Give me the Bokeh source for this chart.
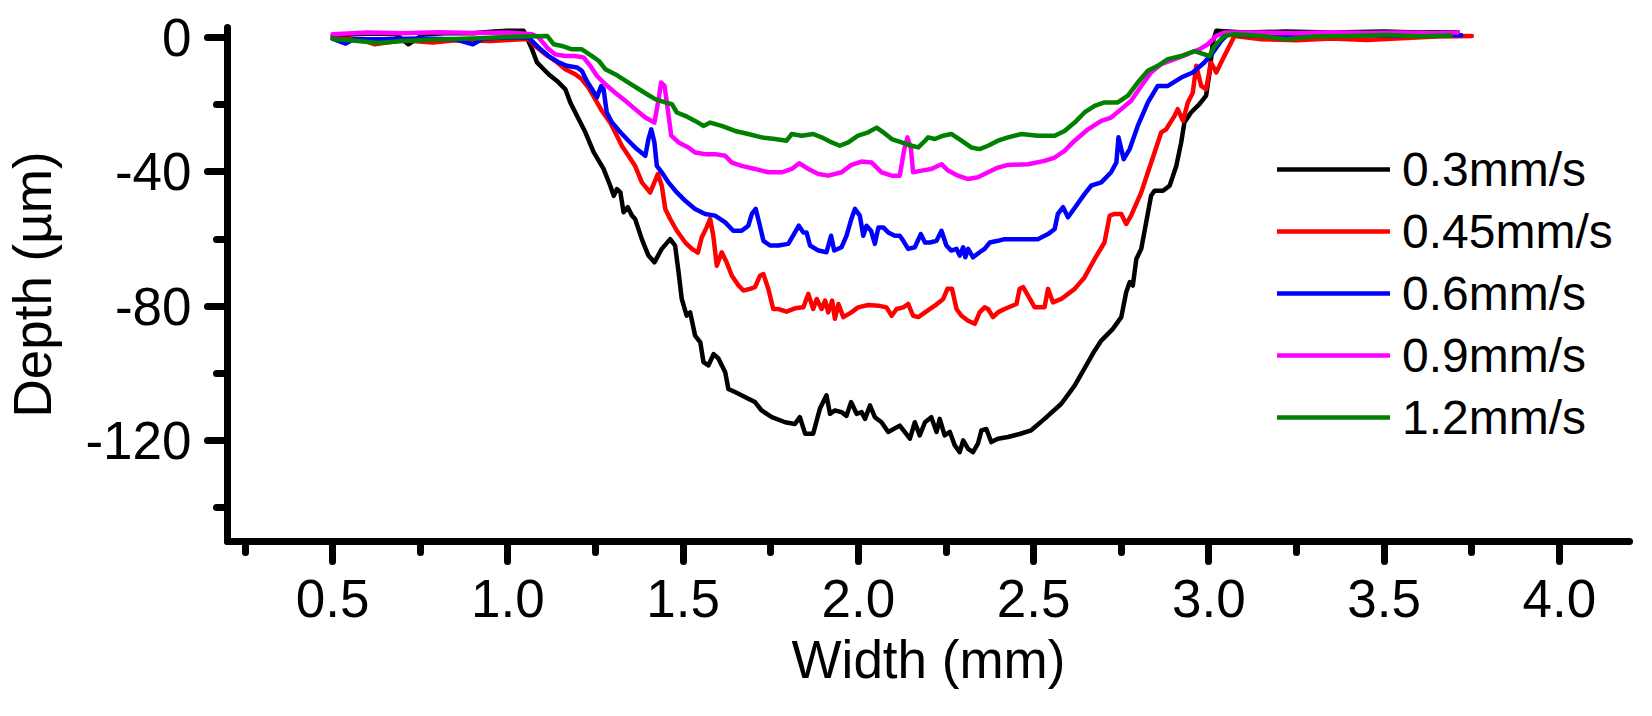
from bokeh.plotting import figure
from bokeh.models import FixedTicker, Range1d, Legend, LegendItem
from bokeh.embed import file_html
from bokeh.resources import INLINE

FONT = "Liberation Sans"

x_title = "Width (mm)"
y_title = "Depth (µm)"
series_labels = ["0.3mm/s", "0.45mm/s", "0.6mm/s", "0.9mm/s", "1.2mm/s"]
series_colors = ["#000000", "#FF0000", "#0000FF", "#FF00FF", "#008000"]

x_major_ticks = [0.5, 1.0, 1.5, 2.0, 2.5, 3.0, 3.5, 4.0]
x_tick_labels = ["0.5", "1.0", "1.5", "2.0", "2.5", "3.0", "3.5", "4.0"]
x_minor_ticks = [0.25, 0.75, 1.25, 1.75, 2.25, 2.75, 3.25, 3.75]
y_major_ticks = [0, -40, -80, -120]
y_tick_labels = ["0", "-40", "-80", "-120"]
y_minor_ticks = [-20, -60, -100, -140]

# 0.3 mm/s
black_x = [0.5, 0.56, 0.62, 0.68, 0.716, 0.76, 0.82, 0.9, 0.96, 1.0, 1.045,
           1.054, 1.069, 1.083, 1.097, 1.116, 1.140, 1.164, 1.178, 1.197, 1.221,
           1.245, 1.273, 1.292, 1.302, 1.311, 1.321, 1.330, 1.342, 1.354, 1.363,
           1.382, 1.401, 1.418, 1.439, 1.463, 1.477, 1.487, 1.496, 1.510, 1.520,
           1.534, 1.549, 1.558, 1.572, 1.587, 1.601, 1.620, 1.629, 1.648, 1.686,
           1.705, 1.724, 1.753, 1.791, 1.819, 1.833, 1.848, 1.871, 1.890, 1.909,
           1.919, 1.933, 1.952, 1.966, 1.979, 1.995, 2.009, 2.019, 2.033, 2.047,
           2.066, 2.085, 2.118, 2.132, 2.147, 2.161, 2.175, 2.190, 2.208, 2.223,
           2.232, 2.246, 2.261, 2.275, 2.289, 2.299, 2.313, 2.327, 2.341, 2.351,
           2.365, 2.379, 2.398, 2.427,
           2.46, 2.493, 2.531, 2.579, 2.617, 2.650, 2.674, 2.693, 2.726, 2.750,
           2.764, 2.774, 2.783, 2.793, 2.807, 2.821, 2.835, 2.845, 2.869, 2.888,
           2.907, 2.921, 2.930, 2.949, 2.973, 2.992, 3.002, 3.011, 3.021,
           3.1, 3.22, 3.35, 3.5, 3.6, 3.71]
black_y = [0.5, 1.0, 1.2, 1.0, -2.0, 1.0, 1.3, 1.3, 1.8, 2.0, 2.0,
           0.0, -3.5, -7.4, -8.9, -10.9, -12.9, -15.4, -19.3, -23.3, -28.2,
           -34.2, -39.1, -44.1, -47.1, -45.1, -46.1, -52.0, -50.5, -53.0, -54.0,
           -60.0, -64.9, -66.9, -62.9, -60.0, -61.9, -69.9, -77.8, -82.8, -81.8,
           -88.7, -90.7, -96.6, -97.6, -94.2, -95.6, -99.6, -104.6, -105.5, -107.5,
           -108.5, -111.0, -113.0, -114.5, -115.0, -113.0, -117.9, -117.9, -110.5, -106.5,
           -112.0, -111.0, -111.5, -112.6, -108.5, -112.0, -111.5, -113.5, -109.5, -113.0,
           -114.5, -117.4, -115.5, -117.4, -119.4, -114.5, -118.4, -114.5, -113.0, -117.4,
           -113.5, -118.4, -117.4, -121.4, -123.4, -119.9, -122.4, -123.4, -120.9, -116.9,
           -116.5, -120.4, -119.4, -118.9,
           -118.0, -116.9, -113.5, -109.0, -103.6, -97.6, -93.2, -90.2, -86.7, -83.2,
           -75.8, -72.8, -73.8, -65.9, -62.9, -55.0, -47.1, -45.6, -45.6, -44.1,
           -38.2, -31.2, -25.3, -22.3, -19.8, -17.3, -10.4, -1.5, 2.0,
           1.5, 1.8, 1.5, 1.8, 1.5, 1.6]

# 0.45 mm/s
red_x = [0.5, 0.58, 0.62, 0.7, 0.785, 0.85, 0.95, 1.0, 1.04,
         1.059, 1.078, 1.107, 1.135, 1.164, 1.192, 1.211, 1.230, 1.249, 1.268,
         1.292, 1.306, 1.325, 1.344, 1.363, 1.382, 1.406, 1.418, 1.428, 1.439,
         1.449, 1.463, 1.482, 1.506, 1.525, 1.542, 1.553, 1.567, 1.577, 1.586,
         1.596, 1.610, 1.624, 1.639, 1.658, 1.672, 1.691, 1.705, 1.719, 1.729,
         1.743, 1.757, 1.772, 1.795, 1.819, 1.843, 1.857, 1.871, 1.881, 1.895,
         1.905, 1.914, 1.925, 1.933, 1.943, 1.957, 1.980, 1.999, 2.028, 2.057,
         2.080, 2.095, 2.109, 2.128, 2.142, 2.156, 2.171, 2.190, 2.218, 2.242,
         2.254, 2.267, 2.280, 2.294, 2.313, 2.332, 2.346, 2.360, 2.370, 2.384,
         2.398, 2.417,
         2.451, 2.460, 2.470, 2.484, 2.503, 2.531, 2.541, 2.555, 2.579, 2.617,
         2.645, 2.674, 2.702, 2.717, 2.731, 2.750, 2.764, 2.778, 2.807, 2.826,
         2.845, 2.864, 2.878, 2.902, 2.911, 2.926, 2.940, 2.954, 2.964, 2.978,
         2.992, 3.006, 3.021, 3.044, 3.073,
         3.15, 3.25, 3.35, 3.45, 3.55, 3.65, 3.75]
red_y = [-0.3, -0.5, -2.0, -0.8, -1.5, -0.8, -1.0, -0.7, -0.5,
         -0.5, -2.5, -5.0, -6.9, -9.4, -10.9, -12.4, -14.9, -18.3, -21.8,
         -25.3, -28.2, -32.2, -35.2, -38.2, -43.1, -46.1, -43.1, -40.6, -44.1,
         -51.0, -54.0, -57.5, -61.0, -62.9, -64.0, -59.5, -56.5, -54.0, -59.0,
         -67.9, -63.9, -66.9, -70.9, -73.8, -75.3, -74.8, -74.3, -70.9, -70.4,
         -74.8, -80.8, -80.8, -81.6, -80.6, -80.3, -76.3, -80.8, -77.8, -80.8,
         -78.3, -81.8, -78.3, -83.7, -79.3, -83.2, -81.8, -80.3, -79.6, -79.8,
         -80.3, -82.8, -80.8, -80.3, -79.3, -82.8, -83.2, -81.8, -79.8, -77.8,
         -74.8, -74.8, -80.8, -82.8, -84.3, -85.2, -81.8, -80.3, -80.8, -83.2,
         -81.8, -80.8,
         -79.3, -74.8, -74.3, -76.8, -80.3, -80.3, -74.8, -78.8, -77.8, -74.8,
         -71.4, -65.9, -61.0, -53.0, -52.5, -52.5, -55.5, -53.0, -46.1, -40.1,
         -34.2, -28.2, -27.3, -23.3, -21.3, -24.8, -19.3, -16.4, -8.4, -14.4,
         -15.4, -7.4, -10.4, -5.5, 0.5,
         -0.5, -0.8, -0.3, -0.7, -0.2, 0.3, 0.5]

# 0.6 mm/s
blue_x = [0.5, 0.537, 0.56, 0.65, 0.75, 0.85, 0.90, 0.93, 1.0, 1.05,
          1.059, 1.088, 1.116, 1.145, 1.168, 1.197, 1.211, 1.225, 1.240, 1.254,
          1.266, 1.273, 1.282, 1.297, 1.321, 1.344, 1.368, 1.392, 1.401, 1.409,
          1.418, 1.425, 1.439, 1.458, 1.482, 1.506, 1.534, 1.563, 1.591, 1.620,
          1.643, 1.667, 1.686, 1.696, 1.707, 1.719, 1.729, 1.748, 1.772, 1.800,
          1.819, 1.830, 1.843, 1.852, 1.862, 1.886, 1.909, 1.922, 1.931, 1.952,
          1.966, 1.980, 1.990, 2.004, 2.014, 2.023, 2.036, 2.047, 2.057, 2.071,
          2.085, 2.104, 2.118, 2.128, 2.142, 2.161, 2.178, 2.190, 2.204, 2.223,
          2.237, 2.251, 2.265, 2.280, 2.289, 2.299, 2.305, 2.313, 2.327, 2.346,
          2.360, 2.375, 2.398, 2.417,
          2.436, 2.512, 2.541, 2.560, 2.569, 2.584, 2.598, 2.622, 2.645, 2.664,
          2.693, 2.721, 2.736, 2.742, 2.750, 2.757, 2.774, 2.797, 2.826, 2.854,
          2.883, 2.921, 2.954, 2.987, 3.011, 3.035, 3.054,
          3.15, 3.25, 3.35, 3.45, 3.55, 3.64, 3.72]
blue_y = [-0.3, -1.8, -0.5, -0.5, -0.3, -0.5, -2.0, -0.3, 0.0, 0.0,
          0.0, -3.0, -5.5, -7.4, -8.4, -8.9, -9.9, -12.9, -15.4, -17.8,
          -14.4, -15.4, -22.3, -25.3, -28.2, -30.7, -33.2, -35.2, -30.2, -27.3,
          -31.2, -38.2, -40.1, -43.1, -46.1, -48.6, -51.0, -52.5, -53.0, -55.0,
          -57.5, -57.5, -56.0, -52.5, -51.0, -56.0, -60.5, -61.9, -61.9, -61.4,
          -58.0, -56.0, -58.0, -58.0, -61.9, -63.4, -63.9, -59.0, -63.4, -62.4,
          -59.0, -54.0, -51.0, -53.0, -59.0, -56.0, -57.5, -61.4, -56.5, -56.5,
          -58.0, -59.0, -59.0, -60.5, -62.9, -62.4, -58.5, -61.0, -61.0, -60.5,
          -57.5, -61.9, -63.4, -62.9, -64.9, -62.4, -65.4, -62.9, -65.4, -63.9,
          -62.9, -61.0, -60.5, -60.0,
          -60.0, -60.0, -58.5, -57.0, -52.5, -50.5, -53.5, -50.0, -46.6, -44.1,
          -43.1, -40.1, -37.2, -29.7, -33.2, -36.2, -33.2, -26.3, -19.3, -14.4,
          -14.4, -11.9, -10.4, -7.4, -4.5, -1.0, 1.0,
          0.5, 0.8, 0.5, 0.8, 0.5, 0.9, 0.7]

# 0.9 mm/s
magenta_x = [0.5, 0.6, 0.7, 0.8, 0.9, 1.0, 1.069,
             1.088, 1.112, 1.135, 1.164, 1.192, 1.216, 1.235, 1.254, 1.278, 1.306,
             1.335, 1.363, 1.392, 1.418, 1.430, 1.437, 1.447, 1.456, 1.466, 1.487,
             1.515, 1.534, 1.563, 1.591, 1.620, 1.639, 1.667, 1.705, 1.743, 1.781,
             1.810, 1.831, 1.857, 1.886, 1.914, 1.952, 1.980, 2.009, 2.038, 2.066,
             2.095, 2.118, 2.131, 2.140, 2.150, 2.156, 2.180, 2.208, 2.237, 2.256,
             2.284, 2.313, 2.341, 2.370, 2.398, 2.427,
             2.484, 2.531, 2.560, 2.588, 2.617, 2.655, 2.693, 2.721, 2.750, 2.778,
             2.807, 2.835, 2.864, 2.902, 2.940, 2.973, 2.997, 3.021, 3.044,
             3.15, 3.25, 3.35, 3.45, 3.55, 3.63, 3.71]
magenta_y = [1.0, 1.5, 1.3, 1.6, 1.4, 1.5, 1.0,
             0.0, -3.0, -5.0, -5.5, -5.5, -5.9, -8.4, -11.4, -13.9, -16.4,
             -18.8, -21.3, -23.8, -25.3, -18.3, -13.4, -14.4, -21.3, -29.2, -31.2,
             -32.7, -34.2, -34.7, -34.7, -35.2, -37.2, -38.2, -39.1, -40.1, -40.1,
             -39.1, -37.4, -39.1, -40.6, -41.1, -40.1, -37.9, -36.9, -37.2, -40.1,
             -41.1, -41.1, -33.2, -29.7, -33.2, -40.1, -39.6, -39.1, -37.7, -39.6,
             -41.1, -42.1, -41.6, -40.1, -38.7, -37.9,
             -37.7, -36.7, -35.7, -33.7, -30.7, -27.3, -24.8, -23.8, -21.3, -18.8,
             -14.4, -10.4, -7.9, -6.4, -4.9, -3.5, -2.0, 0.5, 1.5,
             1.5, 1.3, 1.6, 1.4, 1.5, 1.3, 1.5]

# 1.2 mm/s
green_x = [0.5, 0.55, 0.63, 0.7, 0.8, 0.9, 1.0, 1.07, 1.112,
           1.131, 1.154, 1.183, 1.211, 1.240, 1.259, 1.278, 1.306, 1.344, 1.382,
           1.420, 1.449, 1.468, 1.482, 1.506, 1.534, 1.558, 1.577, 1.610, 1.648,
           1.686, 1.724, 1.762, 1.795, 1.810, 1.838, 1.871, 1.895, 1.924, 1.947,
           1.971, 1.999, 2.028, 2.052, 2.071, 2.095, 2.123, 2.152, 2.171, 2.190,
           2.199, 2.218, 2.242, 2.265, 2.294, 2.322, 2.346, 2.370, 2.398, 2.427,
           2.465, 2.512, 2.560, 2.588, 2.617, 2.645, 2.674, 2.702, 2.740, 2.769,
           2.797, 2.826, 2.854, 2.883, 2.921, 2.959, 2.987, 3.002, 3.016, 3.044,
           3.073,
           3.15, 3.22, 3.3, 3.4, 3.506, 3.6, 3.69]
green_y = [-0.4, -0.8, -1.6, -1.0, -0.6, -0.3, 0.2, 0.4, 0.5,
           -2.0, -2.5, -3.5, -3.5, -5.5, -6.9, -9.4, -10.9, -13.4, -15.9,
           -18.3, -19.3, -19.8, -22.3, -23.3, -24.8, -26.3, -25.3, -26.3, -27.8,
           -28.7, -29.7, -30.2, -30.7, -28.7, -29.2, -28.7, -29.7, -31.2, -32.2,
           -31.2, -29.2, -28.2, -26.8, -28.2, -30.2, -31.2, -32.2, -32.7, -30.7,
           -29.7, -30.2, -29.2, -28.7, -30.7, -32.7, -33.2, -32.2, -30.7, -29.7,
           -28.7, -29.2, -29.2, -27.8, -25.3, -22.3, -20.3, -19.3, -19.3, -17.3,
           -13.4, -9.9, -8.4, -6.4, -5.5, -4.0, -5.0, -5.5, -2.5, 0.5,
           1.0,
           0.5, -0.5, 0.3, 0.5, 0.8, 0.4, 0.6]

series_x = [black_x, red_x, blue_x, magenta_x, green_x]
series_y = [black_y, red_y, blue_y, magenta_y, green_y]

p = figure(width=1636, height=708,
           x_range=Range1d(0.2, 4.2), y_range=Range1d(-150, 3),
           output_backend="svg", toolbar_location=None,
           min_border_left=224, min_border_right=7,
           min_border_top=27, min_border_bottom=167)
p.xgrid.visible = False
p.ygrid.visible = False
p.outline_line_color = None
p.background_fill_color = "white"
p.border_fill_color = "white"

renderers = []
for xs, ys, col in zip(series_x, series_y, series_colors):
    r = p.line(xs, ys, line_color=col, line_width=4.5,
               line_join="round", line_cap="round")
    renderers.append(r)

p.xaxis.ticker = FixedTicker(ticks=x_major_ticks, minor_ticks=x_minor_ticks)
p.yaxis.ticker = FixedTicker(ticks=y_major_ticks, minor_ticks=y_minor_ticks)
p.xaxis.major_label_overrides = {t: s for t, s in zip(x_major_ticks, x_tick_labels)}
p.yaxis.major_label_overrides = {t: s for t, s in zip(y_major_ticks, y_tick_labels)}
p.xaxis.axis_label = x_title
p.yaxis.axis_label = y_title

for ax in (p.xaxis[0], p.yaxis[0]):
    ax.axis_line_width = 7
    ax.axis_line_cap = "round"
    ax.axis_line_color = "black"
    ax.major_tick_line_width = 7
    ax.minor_tick_line_width = 7
    ax.major_tick_line_cap = "round"
    ax.minor_tick_line_cap = "round"
    ax.major_tick_line_color = "black"
    ax.minor_tick_line_color = "black"
    ax.major_tick_out = 20
    ax.major_tick_in = 0
    ax.minor_tick_out = 11
    ax.minor_tick_in = 0
    ax.major_label_text_font = FONT
    ax.major_label_text_font_size = "53px"
    ax.major_label_text_color = "black"
    ax.major_label_text_line_height = 1.0
    ax.axis_label_text_font = FONT
    ax.axis_label_text_font_size = "53px"
    ax.axis_label_text_font_style = "normal"
    ax.axis_label_text_color = "black"
    ax.axis_label_text_line_height = 1.0

p.xaxis.major_label_standoff = 18
p.xaxis.axis_label_standoff = 10
p.yaxis.major_label_standoff = 16
p.yaxis.axis_label_standoff = 20

items = [LegendItem(label=lbl, renderers=[r]) for lbl, r in zip(series_labels, renderers)]
legend = Legend(items=items, location=(1050, 93),
                border_line_color=None, background_fill_alpha=0,
                padding=0, margin=0, spacing=0,
                glyph_width=113, glyph_height=62, label_height=62,
                label_standoff=12,
                label_text_font=FONT, label_text_font_size="48px",
                label_text_baseline="middle", label_text_color="black")
p.add_layout(legend)

open("out.html", "w").write(file_html(p, INLINE))
